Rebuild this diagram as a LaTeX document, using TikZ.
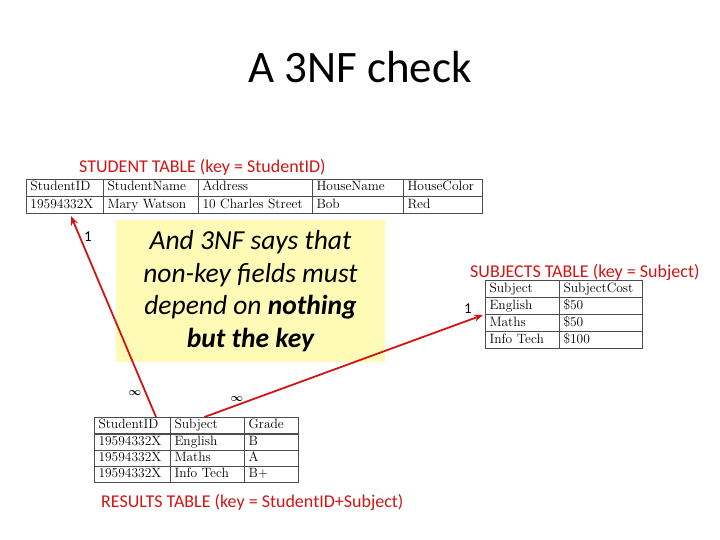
\documentclass[tikz,border=0pt]{standalone}
\usepackage{fontspec}
\newfontfamily\carlito{Carlito}
\usetikzlibrary{arrows.meta}
\definecolor{keyred}{RGB}{210,20,20}
\definecolor{notefill}{RGB}{255,250,182}
\begin{document}
\begin{tikzpicture}[x=1pt, y=-1pt,
    tcell/.style={draw=black!70, line width=1pt, anchor=north west,
      inner xsep=4pt, inner ysep=0pt, align=left, minimum height=#1,
      text height=9pt, text depth=3pt,
      font=\fontsize{13.5}{13.5}\selectfont},
    tcell/.default=17pt,
    tlabel/.style={keyred, anchor=base west, inner sep=0pt,
      font=\carlito\fontsize{18}{18}\selectfont},
    card/.style={inner sep=0pt, font=\carlito\fontsize{15}{15}\selectfont},
    many/.style={inner sep=0pt, font=\fontsize{11}{11}\selectfont\boldmath},
    link/.style={keyred, line width=1.8pt, -{Stealth[length=9pt,width=7pt]}}]
  \useasboundingbox (0,0) rectangle (720,540);
  % title
  \node[anchor=base, inner sep=0pt, font=\carlito\fontsize{45}{45}\selectfont]
    (title) at (360,83) {A 3NF check};
  % student table
  \node[tlabel] (st-lab) at (79,173) {STUDENT TABLE (key = StudentID)};
  \foreach \x/\w/\a/\b [count=\c, evaluate=\w as \tw using \w-8] in {
      26/77/StudentID/19594332X,
      103/95/StudentName/Mary Watson,
      198/114/Address/10 Charles Street,
      312/91/HouseName/Bob,
      403/79/HouseColor/Red} {
    \node[tcell, text width=\tw pt] (s-1-\c) at (\x,179) {\a};
    \node[tcell, text width=\tw pt] (s-2-\c) at (\x,196) {\b};
  }
  % subjects table
  \node[tlabel] (sj-lab) at (470,277) {SUBJECTS TABLE (key = Subject)};
  \foreach \x/\w/\a/\b/\d/\e [count=\c, evaluate=\w as \tw using \w-8] in {
      485/74/Subject/English/Maths/Info Tech,
      559/83/SubjectCost/\$50/\$50/\$100} {
    \foreach \y/\t [count=\r] in {280/\a, 297/\b, 314/\d, 331/\e}
      \node[tcell, text width=\tw pt] (j-\r-\c) at (\x,\y) {\t};
  }
  % results table
  \foreach \x/\w/\a/\b/\d/\e [count=\c, evaluate=\w as \tw using \w-8] in {
      94/76/StudentID/19594332X/19594332X/19594332X,
      170/74/Subject/English/Maths/Info Tech,
      244/54/Grade/B/A/B+} {
    \foreach \y/\t [count=\r] in {417/\a, 433.5/\b, 449.5/\d, 465.5/\e}
      \node[tcell=16pt, text width=\tw pt] (r-\r-\c) at (\x,\y) {\t};
  }
  \node[tlabel] (rs-lab) at (101,507) {RESULTS TABLE (key = StudentID+Subject)};
  % note
  \node[fill=notefill, minimum width=269pt, minimum height=142pt, inner sep=0pt,
    align=center, font=\carlito\itshape\fontsize{27.5}{32.5}\selectfont]
    (note) at (250.5,291)
    {And 3NF says that\\non-key fields must\\depend on \textbf{nothing}\\\textbf{but the key}};
  % links
  \draw[link] ([xshift=-15pt]r-1-1.north east) -- ([xshift=6pt, yshift=-2pt]s-2-1.south);
  \draw[link] ([xshift=-3pt]r-1-2.north) -- ([xshift=-2pt]j-2-1.south west);
  % cardinalities
  \node[card] (one-s) at (88,237) {1};
  \node[card] (one-j) at (468,309) {1};
  \node[many] (many-s) at (135,393) {$\infty$};
  \node[many] (many-j) at (237,399) {$\infty$};
\end{tikzpicture}
\end{document}
